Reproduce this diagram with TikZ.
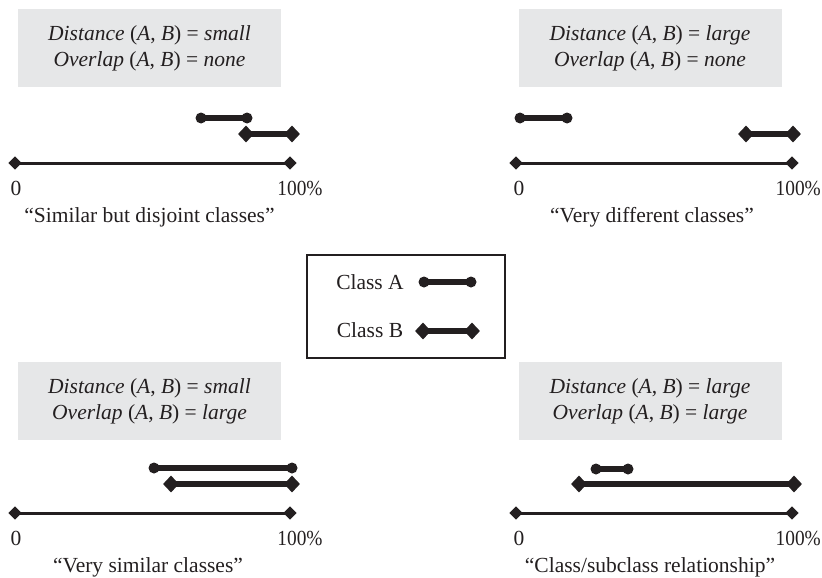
\documentclass[tikz,border=0pt]{standalone}
\usepackage{fontspec}
\usepackage{graphicx}
\setmainfont{Liberation Serif}
\usetikzlibrary{shapes.geometric}
\definecolor{boxgray}{HTML}{E6E7E8}
\definecolor{ink}{HTML}{231F20}
\newcommand{\pctlabel}{\scalebox{0.9}[1]{100\%}}
\begin{document}
\begin{tikzpicture}[x=1pt,y=-1pt,
  every node/.style={text=ink},
  adot/.style={circle,fill=ink,inner sep=0pt,minimum size=11pt},
  bdot/.style={diamond,fill=ink,inner sep=0pt,minimum width=16pt,minimum height=17pt},
  xdot/.style={diamond,fill=ink,inner sep=0pt,minimum size=13.5pt},
  seg/.style={draw=ink,line width=6pt},
  axisline/.style={draw=ink,line width=3pt},
  infobox/.style={fill=boxgray,minimum width=263pt,minimum height=78pt,align=center,inner sep=0pt,font=\fontsize{21.5}{26}\selectfont},
  lbl/.style={font=\fontsize{21.5}{24}\selectfont,inner sep=0pt},
  legendbox/.style={draw=ink,line width=1.2pt,minimum width=198pt,minimum height=103pt}
]
\useasboundingbox (0,0) rectangle (822,578);

% ---------- top-left ----------
\node[infobox] (b1) at (149.5,48) {\textit{Distance} (\textit{A}, \textit{B}) = \textit{small}\\ \textit{Overlap} (\textit{A}, \textit{B}) = \textit{none}};
\node[adot] (a1l) at (201,118) {}; \node[adot] (a1r) at (247,118) {};
\draw[seg] (a1l.center) -- (a1r.center);
\node[bdot] (b1l) at (246,134) {}; \node[bdot] (b1r) at (292,134) {};
\draw[seg] (b1l.center) -- (b1r.center);
\node[xdot] (x1l) at (15,163) {}; \node[xdot] (x1r) at (290,163) {};
\draw[axisline] (x1l.center) -- (x1r.center);
\node[lbl] (z1) at (16,188) {0};
\node[lbl] (h1) at (300,188) {\pctlabel};
\node[lbl] (c1) at (149.5,217) {“Similar but disjoint classes”};

% ---------- top-right ----------
\node[infobox] (b2) at (650,48) {\textit{Distance} (\textit{A}, \textit{B}) = \textit{large}\\ \textit{Overlap} (\textit{A}, \textit{B}) = \textit{none}};
\node[adot] (a2l) at (520,118) {}; \node[adot] (a2r) at (567,118) {};
\draw[seg] (a2l.center) -- (a2r.center);
\node[bdot] (b2l) at (746,134) {}; \node[bdot] (b2r) at (793,134) {};
\draw[seg] (b2l.center) -- (b2r.center);
\node[xdot] (x2l) at (516,163) {}; \node[xdot] (x2r) at (792,163) {};
\draw[axisline] (x2l.center) -- (x2r.center);
\node[lbl] (z2) at (519,188) {0};
\node[lbl,anchor=east] (h2) at (821,188) {\pctlabel};
\node[lbl] (c2) at (652,217) {“Very different classes”};

% ---------- legend ----------
\node[legendbox] (leg) at (406,306.5) {};
\node[lbl] (la) at (370,282) {Class A};
\node[adot] (lal) at (424,282) {}; \node[adot] (lar) at (471,282) {};
\draw[seg] (lal.center) -- (lar.center);
\node[lbl] (lb) at (370,330) {Class B};
\node[bdot] (lbl) at (423,331) {}; \node[bdot] (lbr) at (472,331) {};
\draw[seg] (lbl.center) -- (lbr.center);

% ---------- bottom-left ----------
\node[infobox] (b3) at (149.5,401) {\textit{Distance} (\textit{A}, \textit{B}) = \textit{small}\\ \textit{Overlap} (\textit{A}, \textit{B}) = \textit{large}};
\node[adot] (a3l) at (154,468) {}; \node[adot] (a3r) at (292,468) {};
\draw[seg] (a3l.center) -- (a3r.center);
\node[bdot] (b3l) at (171,484) {}; \node[bdot] (b3r) at (292,484) {};
\draw[seg] (b3l.center) -- (b3r.center);
\node[xdot] (x3l) at (15,513) {}; \node[xdot] (x3r) at (290,513) {};
\draw[axisline] (x3l.center) -- (x3r.center);
\node[lbl] (z3) at (16,538) {0};
\node[lbl] (h3) at (300,538) {\pctlabel};
\node[lbl] (c3) at (148,567) {“Very similar classes”};

% ---------- bottom-right ----------
\node[infobox] (b4) at (650,401) {\textit{Distance} (\textit{A}, \textit{B}) = \textit{large}\\ \textit{Overlap} (\textit{A}, \textit{B}) = \textit{large}};
\node[adot] (a4l) at (596,469) {}; \node[adot] (a4r) at (628,469) {};
\draw[seg] (a4l.center) -- (a4r.center);
\node[bdot] (b4l) at (579,484) {}; \node[bdot] (b4r) at (794,484) {};
\draw[seg] (b4l.center) -- (b4r.center);
\node[xdot] (x4l) at (516,513) {}; \node[xdot] (x4r) at (792,513) {};
\draw[axisline] (x4l.center) -- (x4r.center);
\node[lbl] (z4) at (519,538) {0};
\node[lbl,anchor=east] (h4) at (821,538) {\pctlabel};
\node[lbl] (c4) at (650,567) {“Class/subclass relationship”};
\end{tikzpicture}
\end{document}
